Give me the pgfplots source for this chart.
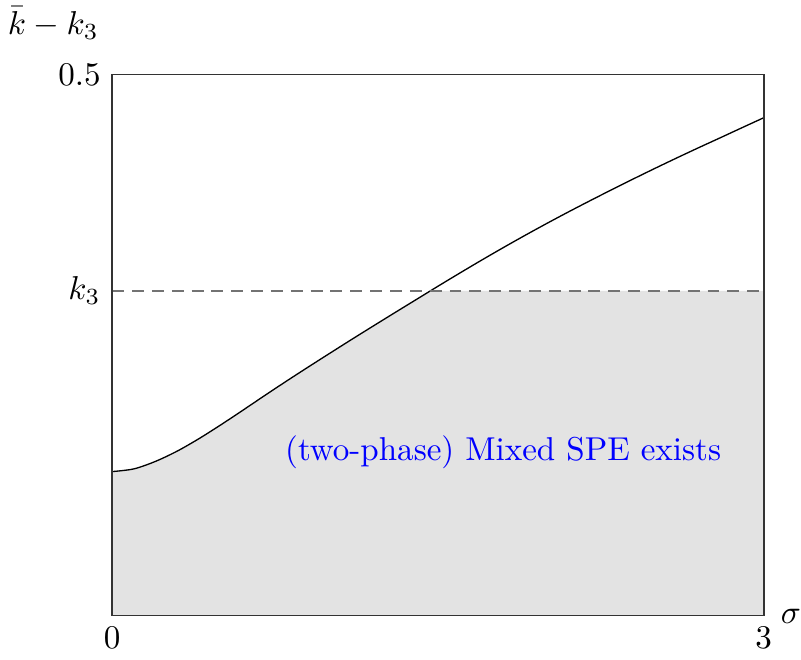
\documentclass[border=0pt]{standalone}
\usepackage{pgfplots}
\pgfplotsset{compat=1.18}
\begin{document}
\begin{tikzpicture}
\begin{axis}[
  scale only axis, width=197pt, height=163.6pt,
  xmin=0, xmax=3, ymin=0, ymax=0.5,
  xtick={0,3}, xticklabels={$0$,$3$},
  ytick={0.3,0.5}, yticklabels={$k_3$,$0.5$},
  major tick length=0,
  axis line style={black!80, line width=0.5pt},
  xlabel={$\sigma$}, ylabel={$\bar{k}-k_3$},
  xlabel style={at={(axis description cs:1,0)}, anchor=base west, inner sep=0pt, xshift=5pt, yshift=-2.4pt},
  ylabel style={rotate=-90, at={(axis description cs:0,1)}, anchor=south east, inner xsep=2.4pt, inner ysep=2pt, xshift=-1.5pt, yshift=8.5pt},
  axis on top,
]
\addplot[fill=gray!22, draw=none] coordinates {
 (0,0.1330) (0.1,0.1355) (0.2,0.1425) (0.3,0.1520) (0.4,0.1635) (0.5,0.1762) (0.6,0.1895)
 (0.7,0.2030) (0.8,0.2163) (0.9,0.2293) (1.0,0.2421) (1.1,0.2548) (1.2,0.2673) (1.3,0.2797)
 (1.4,0.2920) (1.466,0.3) (3,0.3)} \closedcycle;
\addplot[black, line width=0.4pt, smooth] coordinates {
 (0,0.1330) (0.1,0.1355) (0.2,0.1425) (0.3,0.1520) (0.4,0.1635) (0.5,0.1762) (0.6,0.1895)
 (0.7,0.2030) (0.8,0.2163) (0.9,0.2293) (1.0,0.2421) (1.1,0.2548) (1.2,0.2673) (1.3,0.2797)
 (1.4,0.2920) (1.5,0.3043) (1.6,0.3164) (1.7,0.3283) (1.8,0.3399) (1.9,0.3512) (2.0,0.3622)
 (2.1,0.3729) (2.2,0.3833) (2.3,0.3935) (2.4,0.4035) (2.5,0.4133) (2.6,0.4229) (2.7,0.4323)
 (2.8,0.4415) (2.9,0.4508) (3.0,0.4600)};
\addplot[black!55, line width=0.7pt, dash pattern=on 3.6pt off 2.4pt] coordinates {(0,0.3) (3,0.3)};
\node[blue] at (axis cs:1.8,0.151) {(two-phase) Mixed SPE exists};
\end{axis}
\end{tikzpicture}
\end{document}
